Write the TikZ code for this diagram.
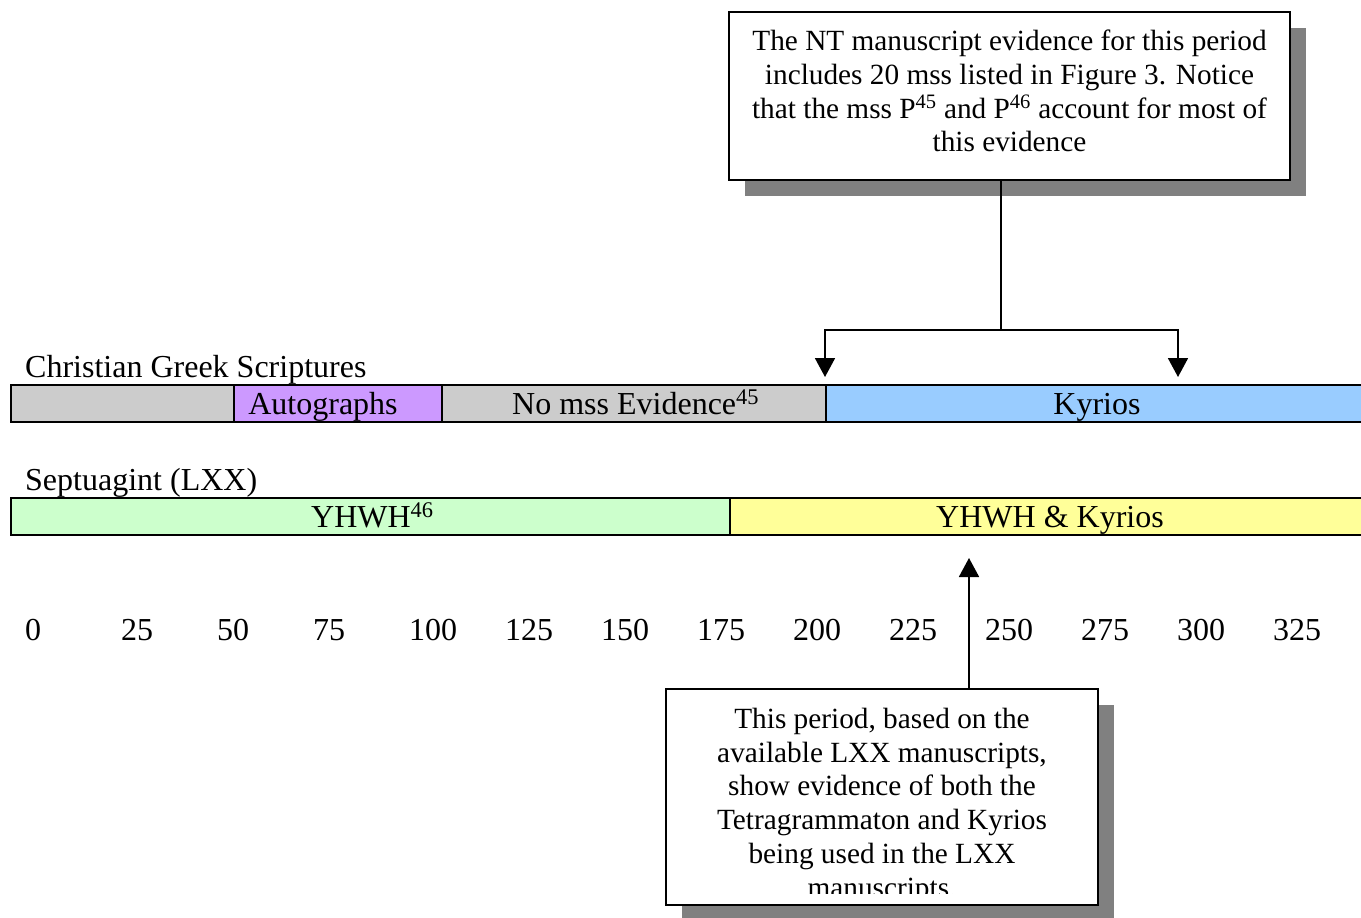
\documentclass[tikz,border=0pt]{standalone}
\usepackage{fontspec}
\setmainfont{Liberation Serif}
\usetikzlibrary{arrows.meta,calc}
\definecolor{cgray}{HTML}{CCCCCC}
\definecolor{cpurple}{HTML}{CC99FF}
\definecolor{cblue}{HTML}{99CCFF}
\definecolor{cgreen}{HTML}{CCFFCC}
\definecolor{cyellow}{HTML}{FFFF99}
\definecolor{shadowgray}{HTML}{808080}
\begin{document}
\begin{tikzpicture}[x=1pt,y=-1pt,font=\fontsize{32}{36.8}\selectfont]
\useasboundingbox (0,0) rectangle (1361,918);
\tikzset{
 seg/.style={inner sep=0pt,outer sep=0pt,minimum height=37pt,anchor=west,draw=none},
 lbl/.style={inner sep=0pt,anchor=base},
 lblw/.style={inner sep=0pt,anchor=base west},
 barline/.style={line width=2.6pt},
 conn/.style={line width=1.8pt,-{Triangle[width=20pt,length=19pt]}},
 plainline/.style={line width=1.8pt},
 note/.style={draw,line width=1.8pt,fill=white,inner sep=0pt},
 shade/.style={fill=shadowgray},
 boxtext/.style={font=\fontsize{29.3}{33.7}\selectfont,align=center,inner sep=0pt}
}
% ---- top note ----
\fill[shade] (745,28) rectangle (1306,196);
\node[note,minimum width=561pt,minimum height=168pt] (top) at (1009.5,96) {};
\node[boxtext] (toptxt) at (1009.5,91)
 {The NT manuscript evidence for this period\\
  includes 20 mss listed in Figure 3. Notice\\
  that the mss P\textsuperscript{45} and P\textsuperscript{46} account for most of\\
  this evidence};
% ---- bar 1 ----
\node[lblw] (cgs) at (25,377) {Christian Greek Scriptures};
\node[seg,fill=cgray,minimum width=223pt] (g1) at (11,403.5) {};
\node[seg,fill=cpurple,minimum width=208pt] (aut) at (234,403.5) {};
\node[seg,fill=cgray,minimum width=384pt] (nme) at (442,403.5) {};
\node[seg,fill=cblue,minimum width=535pt] (kyr) at (826,403.5) {};
\draw[barline] (kyr.north east) -- (g1.north west) -- (g1.south west) -- (kyr.south east);
\draw[barline] (aut.north west) -- (aut.south west);
\draw[barline] (nme.north west) -- (nme.south west);
\draw[barline] (kyr.north west) -- (kyr.south west);
\node[lbl] (autt) at (323,414) {Autographs};
\node[lblw] (nmet) at (512,414) {No mss Evidence\textsuperscript{45}};
\node[lbl] (kyrt) at (1097,414) {Kyrios};
% ---- bar 2 ----
\node[lblw] (lxx) at (25,490) {Septuagint (LXX)};
\node[seg,fill=cgreen,minimum width=719pt] (yh) at (11,516.5) {};
\node[seg,fill=cyellow,minimum width=631pt] (yk) at (730,516.5) {};
\draw[barline] (yk.north east) -- (yh.north west) -- (yh.south west) -- (yk.south east);
\draw[barline] (yk.north west) -- (yk.south west);
\node[lblw] (yht) at (311,527) {YHWH\textsuperscript{46}};
\node[lbl] (ykt) at (1050,527) {YHWH \& Kyrios};
% ---- axis numbers ----
\foreach \v [count=\i from 0] in {0,25,50,75,100,125,150,175,200,225,250,275,300,325}
  \node[lblw] (n\i) at (25+96*\i,640) {\v};
% ---- top connectors ----
\coordinate (j) at (1001,330);
\coordinate (k1) at (825,377);
\coordinate (k2) at (1178,377);
\draw[plainline] (top.south -| j) -- (j);
\draw[conn] (j) -| (k1);
\draw[conn] (j) -| (k2);
% ---- bottom note ----
\fill[shade] (682,705) rectangle (1114,918);
\node[note,minimum width=432pt,minimum height=216pt] (bot) at (882,797) {};
\begin{scope}
\clip (668,691) rectangle (1096,893);
\node[boxtext,anchor=north] (bt) at (882,708)
 {This period, based on the\\
  available LXX manuscripts,\\
  show evidence of both the\\
  Tetragrammaton and Kyrios\\
  being used in the LXX\\
  manuscripts.};
\end{scope}
\coordinate (u) at (969,558);
\draw[conn] (bot.north -| u) -- (u);
\end{tikzpicture}
\end{document}
